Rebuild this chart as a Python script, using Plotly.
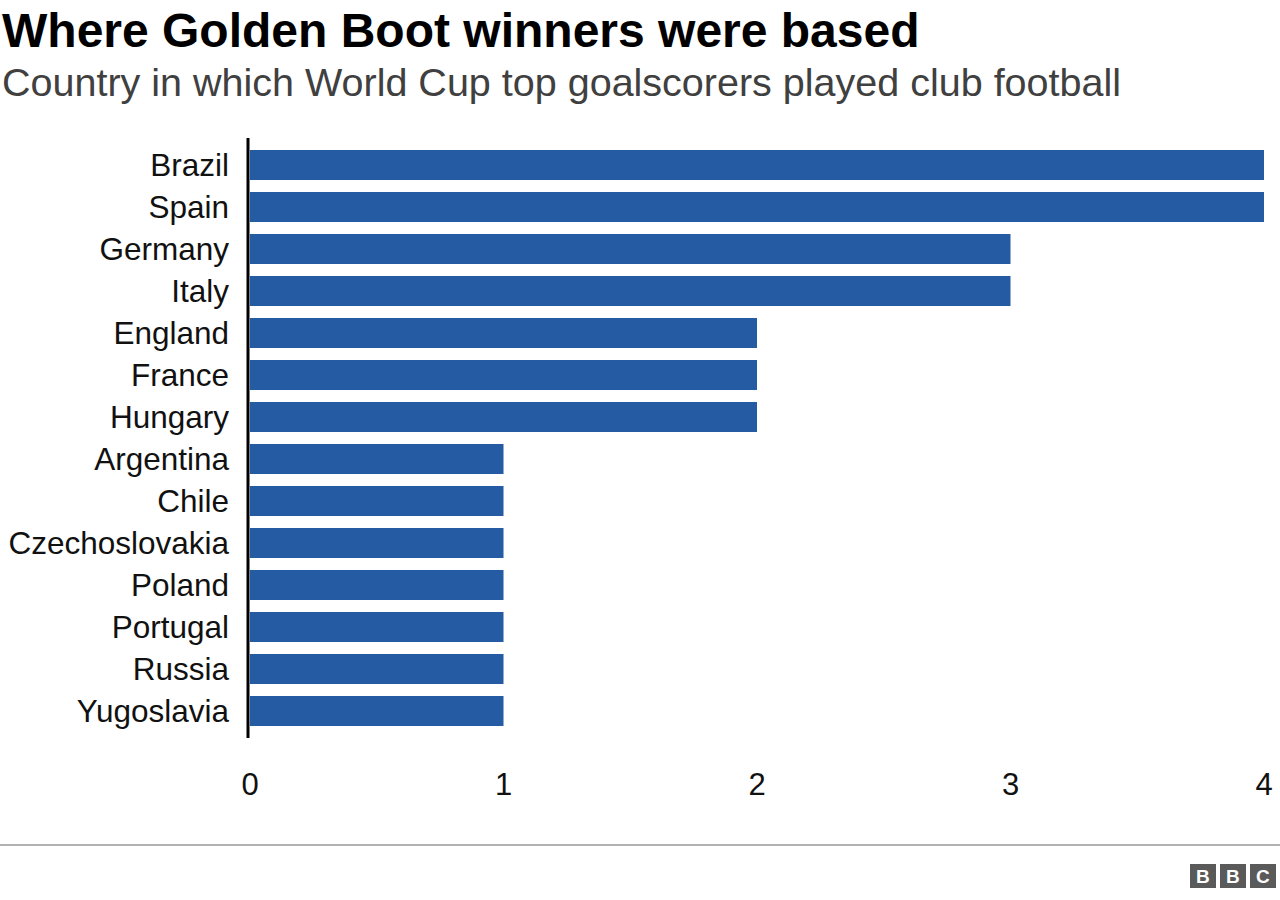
import plotly.graph_objects as go

countries = ["Brazil","Spain","Germany","Italy","England","France","Hungary","Argentina","Chile","Czechoslovakia","Poland","Portugal","Russia","Yugoslavia"]
winners = [4,4,3,3,2,2,2,1,1,1,1,1,1,1]
xticks = [0,1,2,3,4]

W = 1280 - 250 - 16
fig = go.Figure(go.Bar(x=winners, y=countries, orientation="h", marker_color="#255ba3",
                       marker_line_width=0, hoverinfo="skip"))
fig.update_layout(
    width=1280, height=900, plot_bgcolor="white", paper_bgcolor="white",
    margin=dict(l=250, r=16, t=144, b=168), bargap=0.28, showlegend=False,
    font=dict(family="Liberation Sans, Arial", color="#111111"),
    xaxis=dict(range=[0,4], tickvals=xticks, showgrid=False, zeroline=False, showline=False, automargin=False,
               tickfont=dict(size=31, color="#111111"), ticklabelstandoff=31, fixedrange=True),
    yaxis=dict(categoryorder="array", categoryarray=countries[::-1], showgrid=False, automargin=False,
               tickfont=dict(size=31.5, color="#111111"), ticklabelstandoff=20, showline=False),
    shapes=[
        dict(type="line", xref="paper", yref="paper", x0=-2/W, x1=-2/W, y0=-6/588, y1=1+6/588,
             line=dict(color="black", width=3)),
        dict(type="line", xref="paper", yref="paper", x0=-250/W, x1=1+16/W, y0=-113/588, y1=-113/588,
             line=dict(color="#999999", width=1.5)),
    ],
    annotations=[
        dict(text="<b>Where Golden Boot winners were based</b>", xref="paper", yref="paper",
             x=-250/W, y=1+114/588, xanchor="left", yanchor="middle", showarrow=False,
             font=dict(size=48, color="black")),
        dict(text="Country in which World Cup top goalscorers played club football", xref="paper", yref="paper",
             x=-250/W, y=1+62/588, xanchor="left", yanchor="middle", showarrow=False,
             font=dict(size=39.5, color="#404040")),
    ],
)
for i, ch in enumerate("BBC"):
    x0 = 1190 + i*30
    fig.add_shape(type="rect", xref="paper", yref="paper",
                  x0=(x0-250)/W, x1=(x0+26-250)/W, y0=(732-888)/588, y1=(732-864)/588,
                  fillcolor="#5a5a5a", line_width=0)
    fig.add_annotation(text="<b>"+ch+"</b>", xref="paper", yref="paper", x=(x0+13-250)/W,
                       y=(732-876)/588, showarrow=False, font=dict(size=19, color="white"),
                       xanchor="center", yanchor="middle")
fig.write_html("out.html", config={"displayModeBar": False},
               post_script="document.body.style.margin='0';document.body.style.overflow='hidden';")
